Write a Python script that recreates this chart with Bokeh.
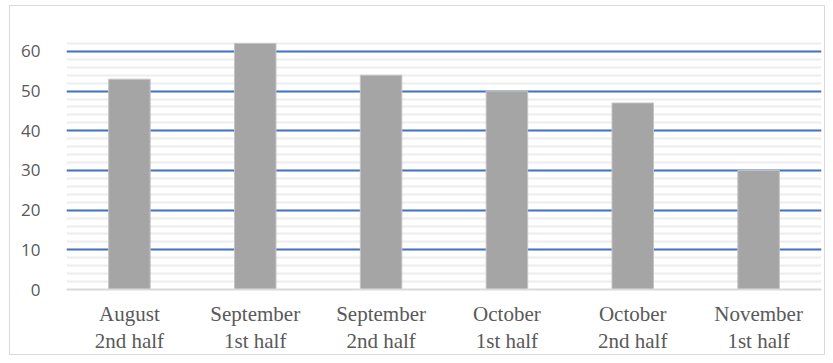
from bokeh.plotting import figure
from bokeh.models import SingleIntervalTicker, Range1d, FactorRange
from bokeh.embed import file_html
from bokeh.resources import INLINE

categories = ["August\n2nd half", "September\n1st half", "September\n2nd half",
              "October\n1st half", "October\n2nd half", "November\n1st half"]
values = [53, 62, 54, 50, 47, 30]

p = figure(x_range=FactorRange(*categories), y_range=Range1d(0, 64),
           width=816, height=350, output_backend="svg", toolbar_location=None,
           min_border_left=56, min_border_right=5, min_border_top=29, min_border_bottom=66)
p.margin = (5, 6, 6, 9)
p.styles = {"border": "1px solid #D9D9D9"}
p.outline_line_color = None
p.background_fill_color = "white"

p.vbar(x=categories, top=values, width=0.33, fill_color="#A5A5A5", line_color="#C4C4C4", line_width=1)

p.yaxis.ticker = SingleIntervalTicker(interval=10, num_minor_ticks=5)
p.ygrid.grid_line_color = "#4472C4"
p.ygrid.grid_line_width = 2
p.ygrid.minor_grid_line_color = "#EDEDED"
p.ygrid.minor_grid_line_width = 2
p.xgrid.grid_line_color = None

p.yaxis.axis_line_color = None
p.yaxis.major_tick_line_color = None
p.yaxis.minor_tick_line_color = None
p.yaxis.major_label_text_font = "Open Sans"
p.yaxis.major_label_text_font_size = "17px"
p.yaxis.major_label_text_color = "#595959"
p.yaxis.major_label_standoff = 20

p.xaxis.axis_line_color = "#D9D9D9"
p.xaxis.axis_line_width = 2
p.xaxis.major_tick_line_color = None
p.xaxis.minor_tick_line_color = None
p.xaxis.major_label_text_font = "Liberation Serif"
p.xaxis.major_label_text_font_size = "21px"
p.xaxis.major_label_text_color = "#595959"
p.xaxis.major_label_standoff = 6
p.xaxis.major_label_text_line_height = 1.15

open("out.html", "w").write(file_html(p, INLINE))
